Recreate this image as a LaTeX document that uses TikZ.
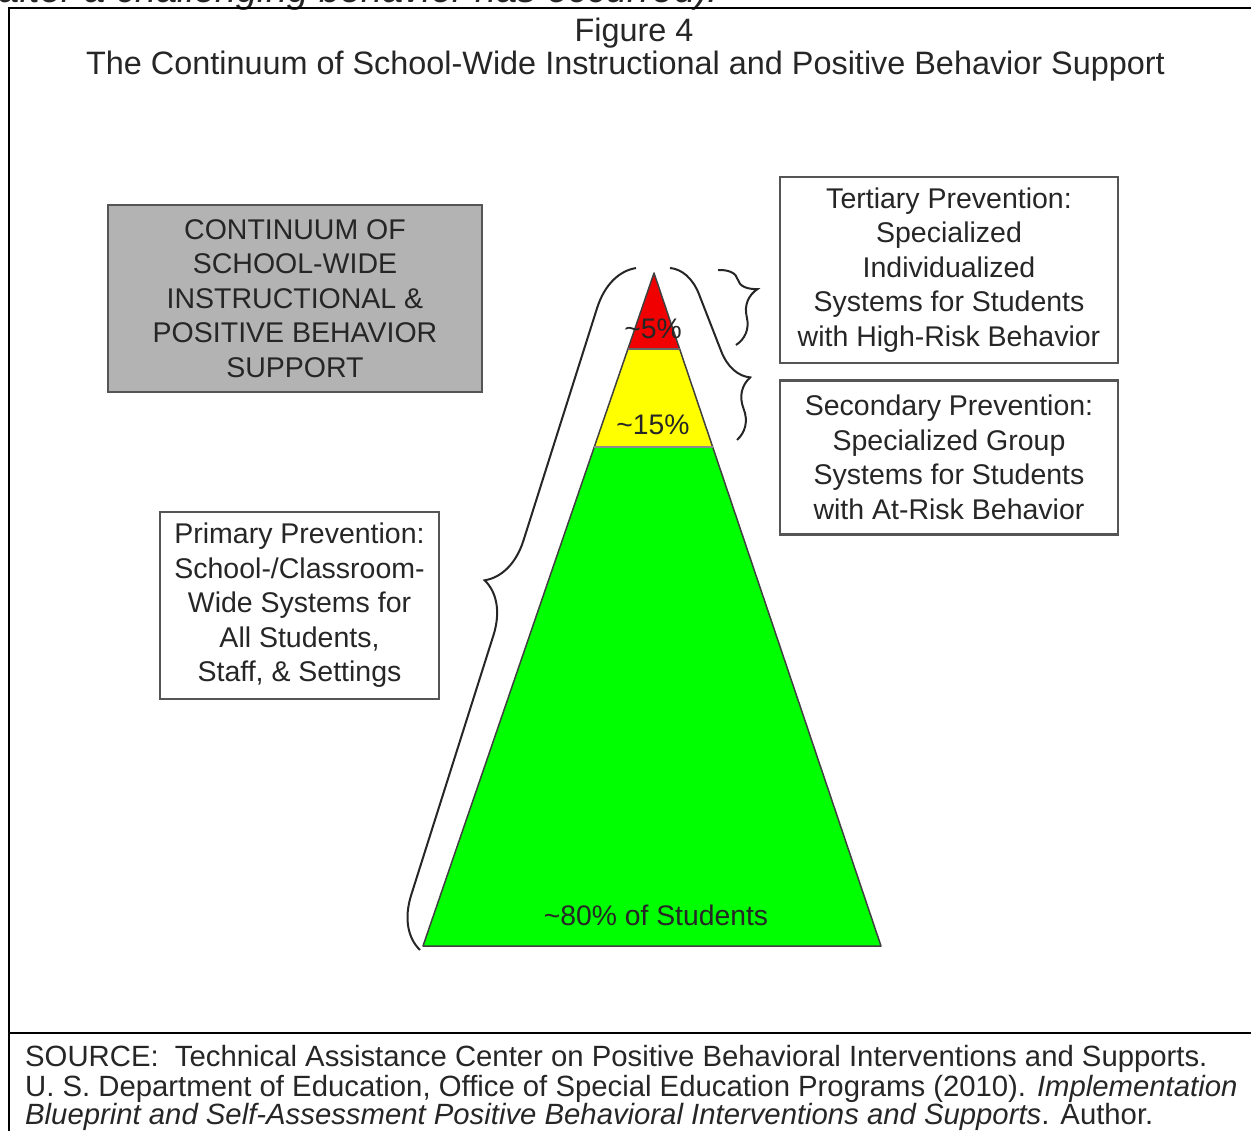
\documentclass[tikz,border=0pt]{standalone}
\usepackage{fontspec}
\setmainfont{Liberation Sans}
\usepackage{tikz}
\usepackage{xcolor}
\usetikzlibrary{positioning, calc, decorations.pathreplacing}
\definecolor{boxgray}{HTML}{B3B3B3}
\definecolor{edgegray}{HTML}{555555}
\definecolor{inkgray}{HTML}{262626}
\definecolor{tipred}{HTML}{F00000}
\definecolor{midyellow}{HTML}{FFFF00}
\definecolor{basegreen}{HTML}{00FF00}

\begin{document}
\begin{tikzpicture}[x=1pt, y=-1pt]
    % Define the styles for the frame, the boxes and the braces
    \tikzstyle{frame}=[draw=black, line width=2.5pt];
    \tikzstyle{titletext}=[inner sep=0pt, text=inkgray, font=\fontsize{32.4}{36}\selectfont];
    \tikzstyle{srctext}=[inner sep=0pt, text=inkgray, font=\fontsize{29.3}{31}\selectfont];
    \tikzstyle{prevbox}=[draw=edgegray, line width=2.5pt, fill=white, align=center, text=inkgray, inner sep=0pt, minimum width=338pt, font=\fontsize{28.5}{34.5}\selectfont];
    \tikzstyle{headbox}=[prevbox, fill=boxgray, minimum width=374pt, minimum height=187pt];
    \tikzstyle{pcttext}=[inner sep=0pt, text=inkgray, font=\fontsize{28.3}{30}\selectfont];
    \tikzstyle{curly}=[draw=inkgray, line width=2pt, decorate, decoration={brace}];

    \useasboundingbox (0,0) rectangle (1251,1131);

    % Text of the page above the figure, cut off at the top
    \node[srctext, anchor=base west, font=\fontsize{38}{40}\selectfont\itshape] (prev) at (-2,3) {after a challenging behavior has occurred).};

    % Frame round the figure
    \coordinate (ftl) at (9,8);
    \coordinate (ftr) at (1260,8);
    \coordinate (fbl) at (9,1140);
    \coordinate (fml) at (9,1033);
    \coordinate (fmr) at (1260,1033);
    \draw[frame] (ftr) -- (ftl) -- (fbl);
    \draw[frame] (fml) -- (fmr);

    % Title
    \node[titletext, anchor=base] (fig) at (634,42) {Figure 4};
    \node[titletext, anchor=base] (ttl) at (625.5,75) {The Continuum of School-Wide Instructional and Positive Behavior Support};

    % Coordinates of the triangle
    \coordinate (apex) at (654,273);
    \coordinate (bl) at (423,946);
    \coordinate (br) at (881,946);
    \coordinate (rl) at ($(apex)!0.113!(bl)$);
    \coordinate (rr) at ($(apex)!0.113!(br)$);
    \coordinate (yl) at ($(apex)!0.2585!(bl)$);
    \coordinate (yr) at ($(apex)!0.2585!(br)$);

    % Fill the three layers
    \fill[basegreen] (yl) -- (bl) -- (br) -- (yr) -- cycle;
    \fill[midyellow] (rl) -- (yl) -- (yr) -- (rr) -- cycle;
    \fill[tipred] (apex) -- (rl) -- (rr) -- cycle;
    \draw[black!75, line width=1.5pt, line join=round] (apex) -- (bl) -- (br) -- cycle;
    \draw[black!60, line width=1.5pt] (rl) -- (rr);
    \draw[black!45, line width=1.5pt] (yl) -- (yr);

    % Layer labels
    \node[pcttext] (pct5) at (653,329) {\textasciitilde5\%};
    \node[pcttext] (pct15) at (653,425) {\textasciitilde15\%};
    \node[pcttext] (pct80) at (656,915) {\textasciitilde80\% of Students};

    % Boxes
    \node[headbox] (head) at (295,298.5) {CONTINUUM OF\\SCHOOL-WIDE\\INSTRUCTIONAL \&\\POSITIVE BEHAVIOR\\SUPPORT};
    \node[prevbox, minimum height=186pt] (tert) at (949,270) {Tertiary Prevention:\\Specialized\\Individualized\\Systems for Students\\with High-Risk Behavior};
    \node[prevbox, minimum height=154pt, below=15pt of tert] (sec) {Secondary Prevention:\\Specialized Group\\Systems for Students\\with At-Risk Behavior};
    \node[prevbox, minimum width=279pt, minimum height=187pt] (prim) at (299.5,605.5) {Primary Prevention:\\School-/Classroom-\\Wide Systems for\\All Students,\\Staff, \& Settings};

    % Braces
    \coordinate (pbot) at (420,950);
    \coordinate (ptop) at (636,268);
    \coordinate (stop) at (670,268);
    \coordinate (sbot) at (737,440);
    \coordinate (ttop) at (718,270);
    \coordinate (tbot) at (736,345);
    \draw[curly, decoration={amplitude=50pt, aspect=0.52}] (pbot) -- (ptop);
    \draw[curly, decoration={amplitude=35pt, aspect=0.71}] (stop) -- (sbot);
    \draw[curly, decoration={amplitude=34pt, aspect=0.36}] (ttop) -- (tbot);

    % Source below the figure
    \node[srctext, anchor=base west] (src1) at (25,1066) {SOURCE:\ \ Technical Assistance Center on Positive Behavioral Interventions and Supports.};
    \node[srctext, anchor=base west] (src2) at (25,1096) {U. S. Department of Education, Office of Special Education Programs (2010). \textit{Implementation}};
    \node[srctext, anchor=base west] (src3) at (25,1124) {\textit{Blueprint and Self-Assessment Positive Behavioral Interventions and Supports}. Author.};
\end{tikzpicture}
\end{document}
